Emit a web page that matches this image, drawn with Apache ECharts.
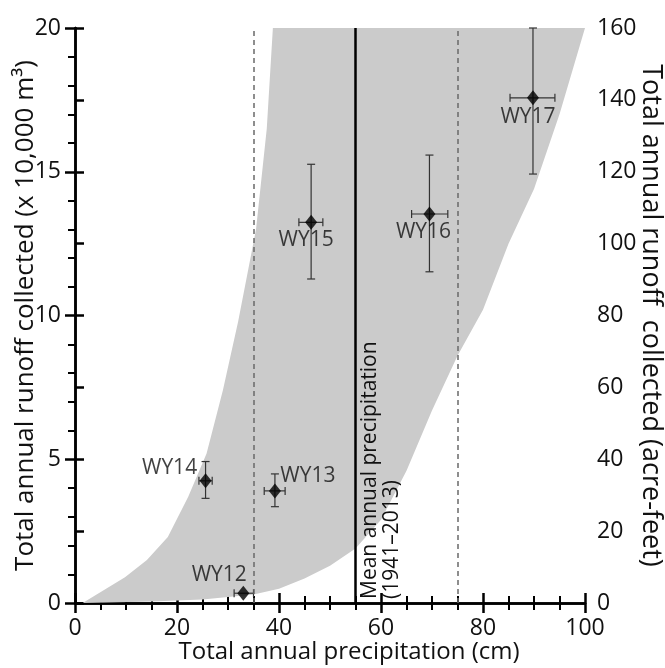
<!DOCTYPE html>
<html>
<head>
<meta charset="utf-8">
<script src="https://cdn.jsdelivr.net/npm/echarts@6/dist/echarts.min.js"></script>
<style>
  html, body { margin: 0; background: #fff; }
  #chart { width: 665px; height: 668px; }
</style>
</head>
<body>
<div id="chart"></div>
<script>
// water years and their values
const years = ['WY12', 'WY13', 'WY14', 'WY15', 'WY16', 'WY17']
const precip = [33.0, 39.2, 25.6, 46.3, 69.5, 89.8]
const runoff = [0.34, 3.9, 4.25, 13.24, 13.53, 17.57]
const precipLow = [31.2, 37.1, 24.3, 43.9, 66.0, 85.3]
const precipHigh = [35.0, 41.2, 26.9, 48.6, 73.1, 94.1]
const runoffLow = [null, 3.35, 3.64, 11.27, 11.52, 14.92]
const runoffHigh = [null, 4.49, 4.92, 15.26, 15.58, 20.0]

// shaded envelope, left (upper) edge bottom->top, right (lower) edge bottom->top
const envelopeUpper = [[1.5, 0], [9.8, 0.9], [14.1, 1.5], [18.2, 2.3], [22.2, 3.7], [25.8, 5.2], [29, 7.4], [32, 9.8], [35.5, 13.0], [37.6, 16.5], [38.8, 20]]
const envelopeLower = [[1.5, 0], [15, 0.05], [25, 0.12], [35, 0.3], [40, 0.5], [45, 0.85], [50, 1.3], [55, 1.9], [60, 2.9], [65, 4.6], [70, 6.7], [75, 8.6], [80, 10.2], [85, 12.5], [90, 14.4], [95, 17.0], [100, 20]]

const meanPrecip = 55
const precipRange = [35, 75]

// label placement relative to each diamond (px)
const labelOffset = [[-24, -18], [33, -15], [-36, -13], [-5, 18], [-6, 18], [-5, 19]]

const FONT = 'Open Sans'
const black = '#111'

const chart = echarts.init(document.getElementById('chart'))

const axisLine = { lineStyle: { color: '#000', width: 2.5 } }
const tickStyle = { color: '#000', width: 2.5 }

const envelope = envelopeUpper.concat(envelopeLower.slice().reverse())

const option = {
  animation: false,
  grid: { left: 75, right: 80, top: 28, bottom: 65, containLabel: false, outerBoundsMode: 'none' },
  xAxis: [{
    type: 'value',
    min: 0,
    max: 100,
    interval: 20,
    name: 'Total annual precipitation (cm)',
    nameLocation: 'middle',
    nameMoveOverlap: false,
    nameGap: 37,
    nameTextStyle: { fontSize: 24, color: black, fontFamily: FONT, padding: [0, 0, 0, 38] },
    axisLine,
    axisTick: { length: 10, lineStyle: tickStyle },
    minorTick: { show: true, splitNumber: 4, length: 7, lineStyle: { color: '#000', width: 2 } },
    splitLine: { show: false },
    axisLabel: { fontSize: 23, color: black, fontFamily: FONT, margin: 14 }
  }, {
    type: 'value',
    position: 'top',
    min: 0,
    max: 100,
    interval: 20,
    axisLine,
    axisTick: { length: 10, lineStyle: tickStyle },
    minorTick: { show: true, splitNumber: 4, length: 7, lineStyle: { color: '#000', width: 2 } },
    splitLine: { show: false },
    axisLabel: { show: false }
  }],
  yAxis: [{
    type: 'value',
    min: 0,
    max: 20,
    interval: 5,
    name: 'Total annual runoff collected (x 10,000 m³)',
    nameLocation: 'middle',
    nameMoveOverlap: false,
    nameRotate: 90,
    nameGap: 36,
    nameTextStyle: { fontSize: 26, color: black, fontFamily: FONT },
    axisLine,
    axisTick: { length: 10, lineStyle: tickStyle },
    minorTick: { show: true, splitNumber: 5, length: 7, lineStyle: { color: '#000', width: 2 } },
    splitLine: { show: false },
    axisLabel: { fontSize: 23, color: black, fontFamily: FONT, margin: 14 }
  }, {
    type: 'value',
    position: 'right',
    min: 0,
    max: 160,
    interval: 20,
    name: 'Total annual runoff  collected (acre-feet)',
    nameLocation: 'middle',
    nameMoveOverlap: false,
    nameRotate: -90,
    nameGap: 52,
    nameTextStyle: { fontSize: 27, color: black, fontFamily: FONT },
    axisLine,
    axisTick: { length: 9, lineStyle: tickStyle },
    splitLine: { show: false },
    axisLabel: { fontSize: 23, color: black, fontFamily: FONT, margin: 12 }
  }],
  series: [{
    // grey envelope
    type: 'custom',
    silent: true,
    z: 1,
    data: [[0, 0]],
    renderItem: (params, api) => ({
      type: 'polygon',
      shape: { points: envelope.map(p => api.coord(p)) },
      style: { fill: '#cbcbcb' }
    })
  }, {
    // error bars
    type: 'custom',
    silent: true,
    z: 3,
    encode: { x: 0, y: 1 },
    data: years.map((n, i) => [precip[i], runoff[i], precipLow[i], precipHigh[i],
      runoffLow[i] == null ? '-' : runoffLow[i], runoffHigh[i] == null ? '-' : runoffHigh[i]]),
    renderItem: (params, api) => {
      const x = api.value(0), y = api.value(1)
      const style = { stroke: '#333', lineWidth: 1.2 }
      const cap = 4
      const xl = api.coord([api.value(2), y])
      const xh = api.coord([api.value(3), y])
      const children = [
        { type: 'line', shape: { x1: xl[0], y1: xl[1], x2: xh[0], y2: xh[1] }, style },
        { type: 'line', shape: { x1: xl[0], y1: xl[1] - cap, x2: xl[0], y2: xl[1] + cap }, style },
        { type: 'line', shape: { x1: xh[0], y1: xh[1] - cap, x2: xh[0], y2: xh[1] + cap }, style }
      ]
      const lo = api.value(4), hi = api.value(5)
      if (!isNaN(lo) && !isNaN(hi)) {
        const yl = api.coord([x, lo])
        const yh = api.coord([x, hi])
        children.push(
          { type: 'line', shape: { x1: yl[0], y1: yl[1], x2: yh[0], y2: yh[1] }, style },
          { type: 'line', shape: { x1: yl[0] - cap, y1: yl[1], x2: yl[0] + cap, y2: yl[1] }, style },
          { type: 'line', shape: { x1: yh[0] - cap, y1: yh[1], x2: yh[0] + cap, y2: yh[1] }, style }
        )
      }
      return { type: 'group', children }
    }
  }, {
    type: 'scatter',
    z: 4,
    symbol: 'diamond',
    symbolSize: [12, 15],
    itemStyle: { color: '#000' },
    label: {
      show: true,
      position: 'inside',
      formatter: '{b}',
      fontSize: 21,
      color: black,
      fontFamily: FONT
    },
    data: years.map((n, i) => ({ name: n, value: [precip[i], runoff[i]], label: { offset: labelOffset[i] } })),
    markLine: {
      silent: true,
      symbol: 'none',
      animation: false,
      label: { show: false },
      data: [
        { xAxis: precipRange[0], lineStyle: { color: '#6a6a6a', width: 1.5, type: [5, 4] } },
        {
          xAxis: meanPrecip,
          lineStyle: { color: '#000', width: 2.5, type: 'solid' },
          label: {
            show: true,
            position: 'insideStartBottom',
            distance: 4,
            formatter: 'Mean annual precipitation\n(1941–2013)',
            fontSize: 21,
            lineHeight: 22,
            color: black,
            fontFamily: FONT
          }
        },
        { xAxis: precipRange[1], lineStyle: { color: '#6a6a6a', width: 1.5, type: [5, 4] } }
      ]
    }
  }]
}

chart.setOption(option)
</script>
</body>
</html>
